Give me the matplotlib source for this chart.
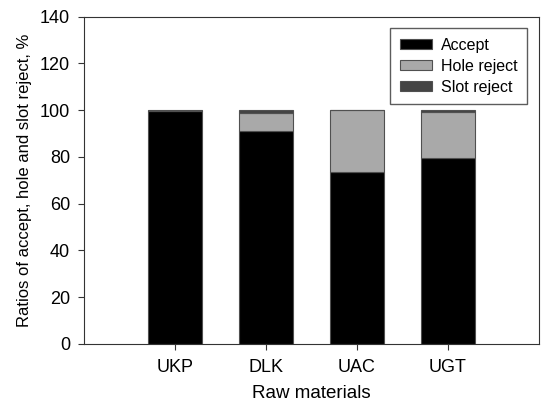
import matplotlib.pyplot as plt
import numpy as np

plt.rcParams['font.family'] = ['Liberation Sans', 'DejaVu Sans']

materials = ['UKP', 'DLK', 'UAC', 'UGT']
accept = [99.6, 91.0, 73.5, 79.5]
hole_reject = [0.0, 8.0, 26.5, 19.9]
slot_reject = [0.4, 1.0, 0.0, 0.6]

x = np.arange(1, len(materials) + 1)
acc = np.array(accept)
hole = np.array(hole_reject)
slot = np.array(slot_reject)

fig = plt.figure(figsize=(5.41, 4.08), dpi=100)
ax = fig.add_axes([0.1553, 0.1569, 0.841, 0.8022])

w = 0.6
edge = '#505050'
ax.bar(x, acc, w, color='black', edgecolor=edge, linewidth=0.8, label='Accept')
ax.bar(x, hole, w, bottom=acc, color='#a9a9a9', edgecolor=edge, linewidth=0.8, label='Hole reject')
ax.bar(x, slot, w, bottom=acc + hole, color='#444444', edgecolor=edge, linewidth=0.8, label='Slot reject')

ax.set_xlim(0, 5)
ax.set_ylim(0, 140)
ax.set_xticks(x)
ax.set_xticklabels(materials)
ax.set_yticks(range(0, 141, 20))
ax.tick_params(direction='out', length=4, labelsize=13, color='#333333', pad=6)
ax.tick_params(axis='x', pad=7)
for s in ax.spines.values():
    s.set_color('#333333')

ax.set_xlabel('Raw materials', fontsize=13.5, labelpad=6)
ax.set_ylabel('Ratios of accept, hole and slot reject, %', fontsize=12, labelpad=6)

leg = ax.legend(loc='upper right', bbox_to_anchor=(0.9736, 0.9654), borderaxespad=0,
                fontsize=11.5, frameon=True, fancybox=False, edgecolor='#333333',
                handlelength=2.0, handleheight=0.6, labelspacing=0.38,
                handletextpad=0.55, borderpad=0.6)
leg.get_frame().set_linewidth(1.0)

fig.savefig('out.png', dpi=100)
